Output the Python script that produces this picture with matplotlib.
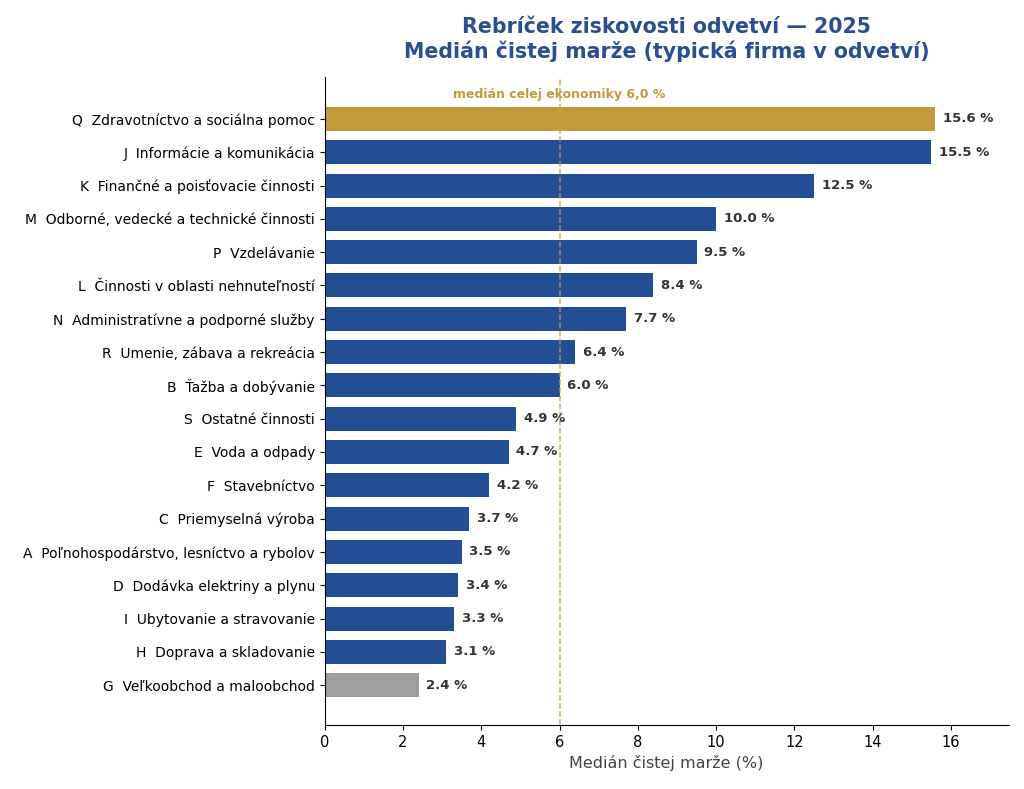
import numpy as np
import matplotlib
matplotlib.use("Agg")
import matplotlib.pyplot as plt

plt.rcParams.update({"font.size": 11, "font.family": "DejaVu Sans"})

sectors = [
    "Q  Zdravotníctvo a sociálna pomoc",
    "J  Informácie a komunikácia",
    "K  Finančné a poisťovacie činnosti",
    "M  Odborné, vedecké a technické činnosti",
    "P  Vzdelávanie",
    "L  Činnosti v oblasti nehnuteľností",
    "N  Administratívne a podporné služby",
    "R  Umenie, zábava a rekreácia",
    "B  Ťažba a dobývanie",
    "S  Ostatné činnosti",
    "E  Voda a odpady",
    "F  Stavebníctvo",
    "C  Priemyselná výroba",
    "A  Poľnohospodárstvo, lesníctvo a rybolov",
    "D  Dodávka elektriny a plynu",
    "I  Ubytovanie a stravovanie",
    "H  Doprava a skladovanie",
    "G  Veľkoobchod a maloobchod",
]
margins = [15.6, 15.5, 12.5, 10.0, 9.5, 8.4, 7.7, 6.4, 6.0, 4.9, 4.7, 4.2, 3.7, 3.5, 3.4, 3.3, 3.1, 2.4]
economy_median = 6.0
highlight = "Q  Zdravotníctvo a sociálna pomoc"
lowlight = "G  Veľkoobchod a maloobchod"

BLUE = "#234E94"
GOLD = "#C39B3D"
GREY = "#9E9E9E"

colors = [GOLD if s == highlight else GREY if s == lowlight else BLUE for s in sectors]
y = np.arange(len(sectors))

fig, ax = plt.subplots(figsize=(10.24, 7.89), dpi=100)
ax.barh(y, margins, height=0.72, color=colors)
ax.set_yticks(y)
ax.set_yticklabels(sectors, fontsize=10)
ax.tick_params(axis="x", labelsize=10.5)
ax.set_ylim(len(sectors) - 1 + 1.2, -1.25)
ax.set_xlim(0, max(margins) * 1.12)

for yi, v in zip(y, margins):
    ax.text(v + 0.2, yi, f"{v:.1f} %", va="center", ha="left",
            fontsize=9.5, fontweight="bold", color="#333333")

ax.axvline(economy_median, color=GOLD, linestyle="--", linewidth=1.1, alpha=0.8)
ax.text(economy_median, -0.72, "medián celej ekonomiky 6,0 %", ha="center", va="center",
        fontsize=9, fontweight="bold", color=GOLD)

ax.set_xlabel("Medián čistej marže (%)", fontsize=11.5, color="#444444")
ax.set_title("Rebríček ziskovosti odvetví — 2025\nMedián čistej marže (typická firma v odvetví)",
             fontsize=14.8, fontweight="bold", color="#2B4F8E", pad=14, linespacing=1.2)
ax.spines["top"].set_visible(False)
ax.spines["right"].set_visible(False)

plt.subplots_adjust(left=0.317, right=0.985, top=0.902, bottom=0.081)
plt.savefig("out.png", dpi=100)
